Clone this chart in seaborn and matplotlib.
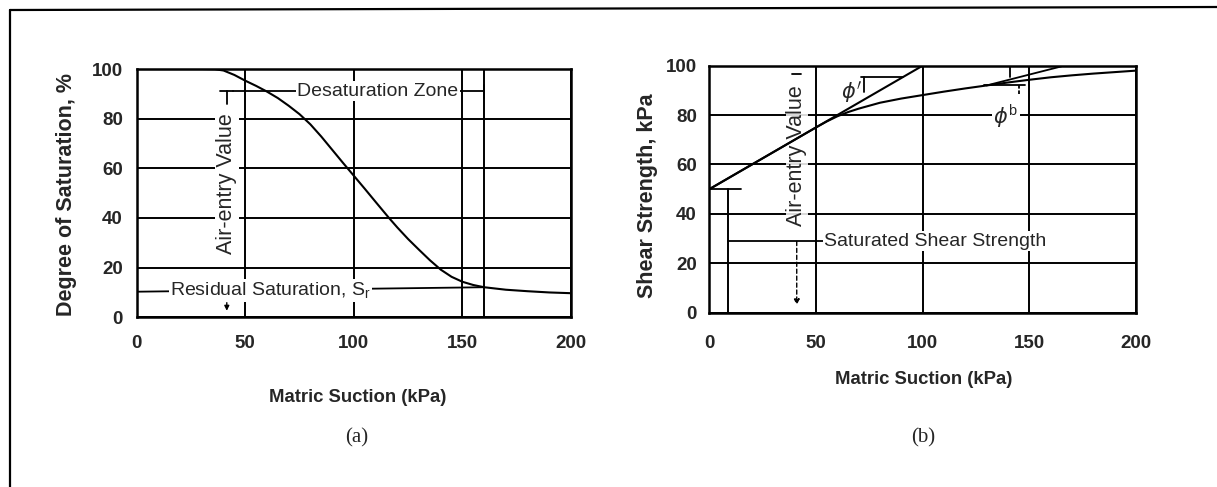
import matplotlib
matplotlib.use("Agg")
import matplotlib.pyplot as plt
from matplotlib.lines import Line2D
import pandas as pd
import seaborn as sns

# (a) degree of saturation vs matric suction
suction_a = [0, 30, 36, 40, 45, 50, 55, 60, 65, 70, 75, 80, 85, 90, 95, 100,
             105, 110, 116, 120, 125, 130, 135, 140, 145, 150, 155, 160, 170,
             180, 190, 200]
saturation = [100, 100, 99.9, 99.4, 97.6, 95.3, 93.2, 90.9, 88.3, 85.2, 81.8,
              77.7, 72.8, 67.5, 62.2, 57, 51.8, 46.5, 40.2, 36.2, 31.5, 27.2,
              23, 19.2, 16.3, 14.3, 13.0, 12.1, 11.1, 10.5, 10.0, 9.7]

# (b) shear strength vs matric suction
suction_b = [0, 20, 40, 50, 55, 60, 65, 70, 80, 90, 100, 110, 120, 130, 140,
             150, 160, 170, 180, 190, 200]
shear = [50, 60, 70, 75, 77.4, 79.5, 81.2, 82.6, 85, 86.7, 88.1, 89.5, 90.8,
         92, 93.2, 94.3, 95.3, 96.1, 96.8, 97.4, 98]

# straight envelope (phi') and tangent to the curve (phi_b)
phi_x = [0, 100]
phi_y = [50, 100]
tangent_x = [130, 165]
tangent_y = [92, 99.7]

x_ticks = [0, 50, 100, 150, 200]
y_ticks = [0, 20, 40, 60, 80, 100]
air_entry = 41.5
residual_end = 160

sns.set_theme(style="white")
plt.rcParams["font.family"] = ["Liberation Sans", "DejaVu Sans"]
plt.rcParams["mathtext.fontset"] = "dejavusans"

LW = 1.5
ANN = 14          # horizontal annotation text
VERT = 15.5       # vertical (rotated) text

fig = plt.figure(figsize=(12.17, 4.87), dpi=100)
ax_a = fig.add_axes([0.1123, 0.3485, 0.3569, 0.5098])
ax_b = fig.add_axes([0.5828, 0.3579, 0.3506, 0.5072])


def style_axes(ax, xpad, ypad):
    ax.set_xlim(0, 200)
    ax.set_ylim(0, 100)
    ax.set_xticks(x_ticks)
    ax.set_yticks(y_ticks)
    ax.grid(True, color="black", linewidth=1.4)
    ax.set_axisbelow(True)
    for s in ax.spines.values():
        s.set_color("black")
        s.set_linewidth(1.8)
    ax.tick_params(axis="x", length=0, pad=xpad)
    ax.tick_params(axis="y", length=0, pad=ypad)
    for lab in ax.get_xticklabels() + ax.get_yticklabels():
        lab.set_fontweight("bold")
        lab.set_fontsize(13.5)


def seg(ax, xs, ys, **kw):
    kw.setdefault("color", "black")
    kw.setdefault("lw", 1.3)
    kw.setdefault("zorder", 2)
    ax.plot(xs, ys, **kw)


box = dict(facecolor="white", edgecolor="none", pad=1.0)

# ---------------- panel (a) ----------------
df_a = pd.DataFrame({"suction": suction_a, "saturation": saturation})
sns.lineplot(data=df_a, x="suction", y="saturation", ax=ax_a,
             color="black", lw=LW, zorder=3)
style_axes(ax_a, xpad=13, ypad=10)
ax_a.axvline(residual_end, color="black", lw=1.4, zorder=0.6)

ax_a.set_xlabel("Matric Suction (kPa)", fontweight="bold", fontsize=13.3)
ax_a.set_ylabel("Degree of Saturation, %", fontweight="bold", fontsize=VERT)
ax_a.xaxis.set_label_coords(0.51, -0.289)
ax_a.yaxis.set_label_coords(-0.137, 0.496)

# air-entry value marker
seg(ax_a, [38.5, 44.5], [91, 91])
seg(ax_a, [air_entry, air_entry], [91, 86])
ax_a.text(air_entry, 54, "Air-entry Value", rotation=90, ha="center",
          va="center", fontsize=VERT, bbox=box, zorder=2.5)
ax_a.annotate("", xy=(air_entry, 1.5), xytext=(air_entry, 7),
              arrowprops=dict(arrowstyle="-|>", lw=1.0, color="black",
                              mutation_scale=7), zorder=2)

# desaturation zone
seg(ax_a, [44.5, residual_end], [91, 91])
seg(ax_a, [residual_end, residual_end], [88.5, 93.5])
ax_a.text(111, 91, "Desaturation Zone", ha="center", va="center",
          fontsize=ANN, bbox=box, zorder=2.5)

# residual saturation
seg(ax_a, [0, residual_end], [10.3, 12.1])
ax_a.text(61.5, 10.6, r"Residual Saturation, S$_\mathregular{r}$",
          ha="center", va="center", fontsize=ANN, bbox=box, zorder=2.5)

# ---------------- panel (b) ----------------
df_b = pd.DataFrame({"suction": suction_b, "shear": shear})
sns.lineplot(data=df_b, x="suction", y="shear", ax=ax_b,
             color="black", lw=LW, zorder=3)
sns.lineplot(x=phi_x, y=phi_y, ax=ax_b, color="black", lw=LW, zorder=3)
sns.lineplot(x=tangent_x, y=tangent_y, ax=ax_b, color="black", lw=1.3,
             zorder=3)
style_axes(ax_b, xpad=16, ypad=9)

ax_b.set_xlabel("Matric Suction (kPa)", fontweight="bold", fontsize=13.3)
ax_b.set_ylabel("Shear Strength, kPa", fontweight="bold", fontsize=VERT)
ax_b.xaxis.set_label_coords(0.503, -0.236)
ax_b.yaxis.set_label_coords(-0.121, 0.473)

# phi' angle marker
seg(ax_b, [71, 90.6], [95.3, 95.3])
seg(ax_b, [72.5, 72.5], [95.3, 89.5])
ax_b.text(66.5, 89.5, r"$\phi'$", ha="center", va="center", fontsize=15,
          zorder=2.5)

# phi_b angle marker
seg(ax_b, [141, 141], [100, 95.5])
seg(ax_b, [129, 148], [92.3, 92.3])
seg(ax_b, [145, 145], [92.3, 88.5], ls=(0, (2, 1)))
ax_b.text(139, 79.5, r"$\phi^\mathregular{b}$", ha="center", va="center",
          fontsize=15, bbox=box, zorder=2.5)

# air-entry value marker
seg(ax_b, [39, 43], [96.5, 96.5])
ax_b.text(41, 63.5, "Air-entry Value", rotation=90, ha="center",
          va="center", fontsize=VERT,
          bbox=dict(facecolor="white", edgecolor="none", pad=0.5,
                    alpha=0.85), zorder=2.5)
ax_b.annotate("", xy=(41, 2), xytext=(41, 30),
              arrowprops=dict(arrowstyle="-|>", lw=1.0, color="black",
                              ls=(0, (3, 2)), mutation_scale=8), zorder=2)

# saturated shear strength marker
seg(ax_b, [0, 15], [50, 50])
seg(ax_b, [9, 9], [0, 50], lw=1.4)
seg(ax_b, [9, 54], [29, 29])
ax_b.text(54, 29, "Saturated Shear Strength", ha="left", va="center",
          fontsize=ANN, bbox=box, zorder=2.5)

# panel captions
fig.text(0.2933, 0.1006, "(a)", ha="center", va="center",
         fontfamily="Liberation Serif", fontsize=15)
fig.text(0.7584, 0.1006, "(b)", ha="center", va="center",
         fontfamily="Liberation Serif", fontsize=15)

# page frame (top and left edges)
fx = 10 / 1217
fy = 1 - 10 / 487
fig.add_artist(Line2D([fx, 1.0], [fy, 1 - 7 / 487], color="black", lw=1.6,
                      transform=fig.transFigure))
fig.add_artist(Line2D([fx, fx], [fy, 0.0], color="black", lw=1.6,
                      transform=fig.transFigure))

fig.savefig("out.png", dpi=100, facecolor="white")
